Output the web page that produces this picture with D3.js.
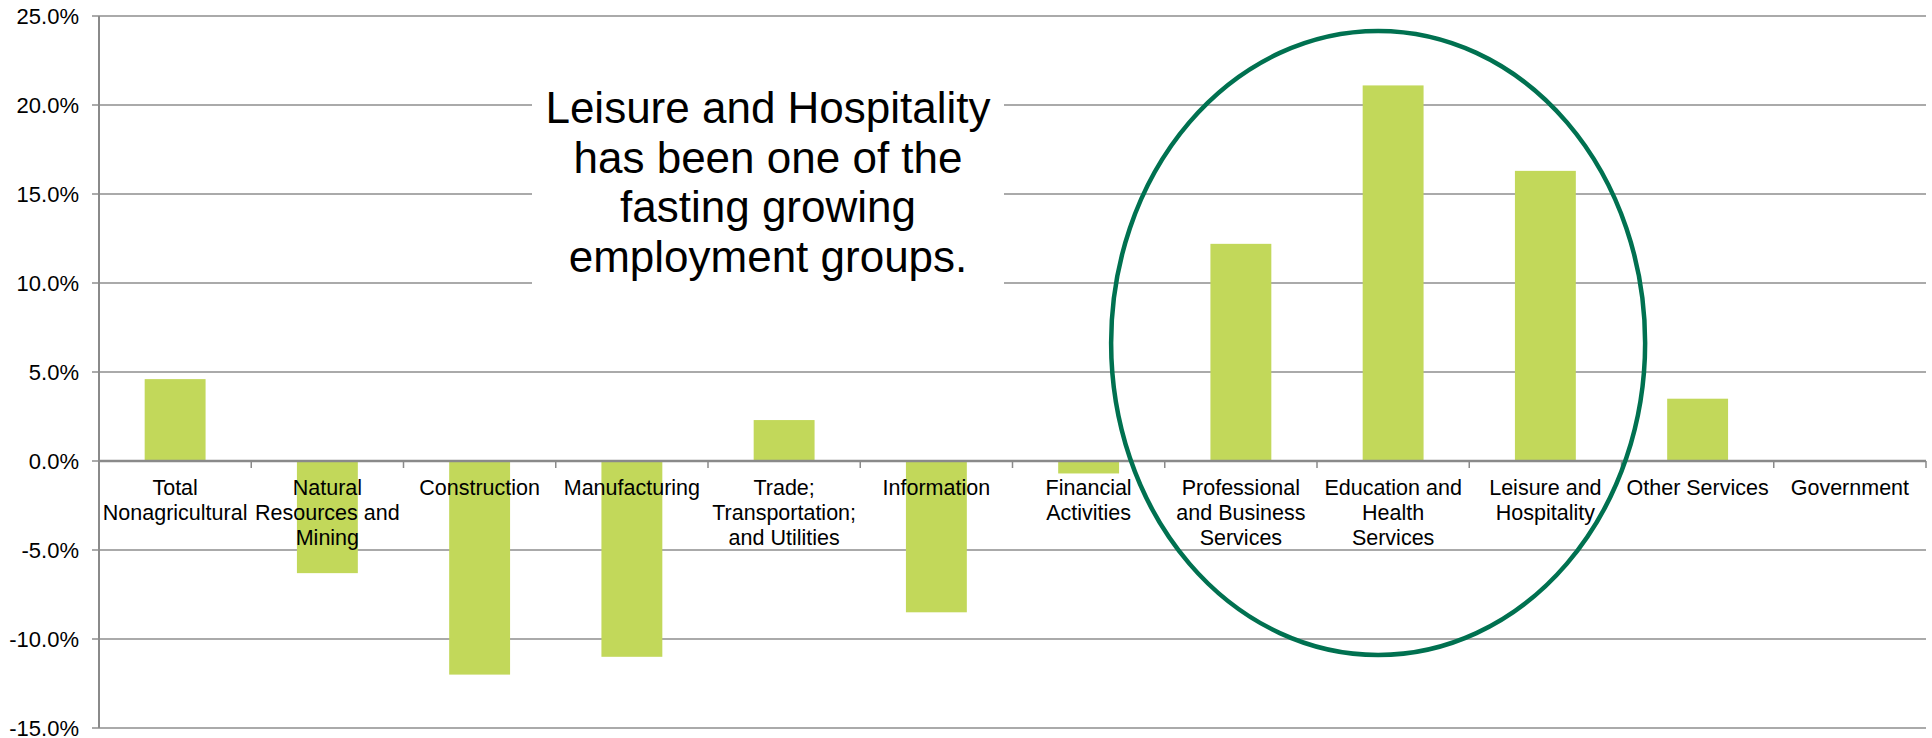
<!DOCTYPE html>
<html lang="en">
<head>
    <meta charset="UTF-8">
    <title>Employment change by sector</title>
    <script src="https://d3js.org/d3.v7.min.js"></script>
    <style>
        body { margin: 0; background: #fff; }
        text { font-family: Arial, "Liberation Sans", sans-serif; fill: #000; }
    </style>
</head>
<body>
<script>
    // chart data
    const categories = [
        ["Total", "Nonagricultural"],
        ["Natural", "Resources and", "Mining"],
        ["Construction"],
        ["Manufacturing"],
        ["Trade;", "Transportation;", "and Utilities"],
        ["Information"],
        ["Financial", "Activities"],
        ["Professional", "and Business", "Services"],
        ["Education and", "Health", "Services"],
        ["Leisure and", "Hospitality"],
        ["Other Services"],
        ["Government"]
    ];
    const changes = [4.6, -6.3, -12.0, -11.0, 2.3, -8.5, -0.7, 12.2, 21.1, 16.3, 3.5, 0.0];
    const yTicks = [25, 20, 15, 10, 5, 0, -5, -10, -15];
    const note = ["Leisure and Hospitality", "has been one of the", "fasting growing", "employment groups."];
    const circled = [7, 8, 9]; // indices inside the ellipse

    const W = 1932, H = 738;
    const margin = { top: 16, right: 6, bottom: 10, left: 99 };

    const svg = d3.select("body").append("svg")
        .attr("width", W)
        .attr("height", H);

    const x = d3.scaleBand()
        .domain(d3.range(categories.length))
        .range([margin.left, W - margin.right])
        .padding(0);

    const y = d3.scaleLinear()
        .domain([-15, 25])
        .range([H - margin.bottom, margin.top]);

    // gridlines
    svg.append("g")
        .selectAll("line")
        .data(yTicks)
        .join("line")
        .attr("x1", margin.left - 7)
        .attr("x2", W - margin.right)
        .attr("y1", d => y(d))
        .attr("y2", d => y(d))
        .attr("stroke", "#8e8e8e")
        .attr("stroke-width", 1.5);

    // y labels
    svg.append("g")
        .selectAll("text")
        .data(yTicks)
        .join("text")
        .attr("x", margin.left - 20)
        .attr("y", d => y(d))
        .attr("dy", "0.36em")
        .attr("text-anchor", "end")
        .attr("font-size", 22)
        .text(d => d.toFixed(1) + "%");

    // y axis line
    svg.append("line")
        .attr("x1", margin.left).attr("x2", margin.left)
        .attr("y1", y(25)).attr("y2", y(-15))
        .attr("stroke", "#8a8a8a")
        .attr("stroke-width", 2);

    // bars
    const bw = x.bandwidth() * 0.4;
    svg.append("g")
        .selectAll("rect")
        .data(changes)
        .join("rect")
        .attr("x", (d, i) => x(i) + (x.bandwidth() - bw) / 2)
        .attr("width", bw)
        .attr("y", d => y(Math.max(0, d)))
        .attr("height", d => Math.abs(y(d) - y(0)))
        .attr("fill", "#c2d85a");

    // zero axis + category ticks
    svg.append("line")
        .attr("x1", margin.left).attr("x2", W - margin.right)
        .attr("y1", y(0)).attr("y2", y(0))
        .attr("stroke", "#8a8a8a")
        .attr("stroke-width", 2.5);

    svg.append("g")
        .selectAll("line")
        .data(d3.range(categories.length + 1))
        .join("line")
        .attr("x1", i => i < categories.length ? x(i) : W - margin.right)
        .attr("x2", i => i < categories.length ? x(i) : W - margin.right)
        .attr("y1", y(0))
        .attr("y2", y(0) + 7)
        .attr("stroke", "#8a8a8a")
        .attr("stroke-width", 1.5);

    // category labels
    svg.append("g")
        .selectAll("text")
        .data(categories)
        .join("text")
        .attr("text-anchor", "middle")
        .attr("font-size", 21.5)
        .attr("transform", (d, i) => `translate(${x(i) + x.bandwidth() / 2},${y(0) + 34})`)
        .selectAll("tspan")
        .data(d => d)
        .join("tspan")
        .attr("x", 0)
        .attr("y", (d, i) => i * 25)
        .text(d => d);

    // annotation box
    const nx = 768;
    svg.append("rect")
        .attr("x", 532).attr("y", 60)
        .attr("width", 472).attr("height", 240)
        .attr("fill", "#fff");

    svg.append("text")
        .attr("text-anchor", "middle")
        .attr("font-size", 44)
        .selectAll("tspan")
        .data(note)
        .join("tspan")
        .attr("x", nx)
        .attr("y", (d, i) => 123 + i * 49.5)
        .text(d => d);

    // ellipse around the fastest growing groups (drawn a bit left of the group centre, as in the original)
    const left = x(circled[0]), right = x(circled[circled.length - 1]) + x.bandwidth();
    svg.append("ellipse")
        .attr("cx", (left + right) / 2 - 15)
        .attr("cy", 343)
        .attr("rx", 267)
        .attr("ry", 312)
        .attr("fill", "none")
        .attr("stroke", "#007150")
        .attr("stroke-width", 4.5);
</script>
</body>
</html>
